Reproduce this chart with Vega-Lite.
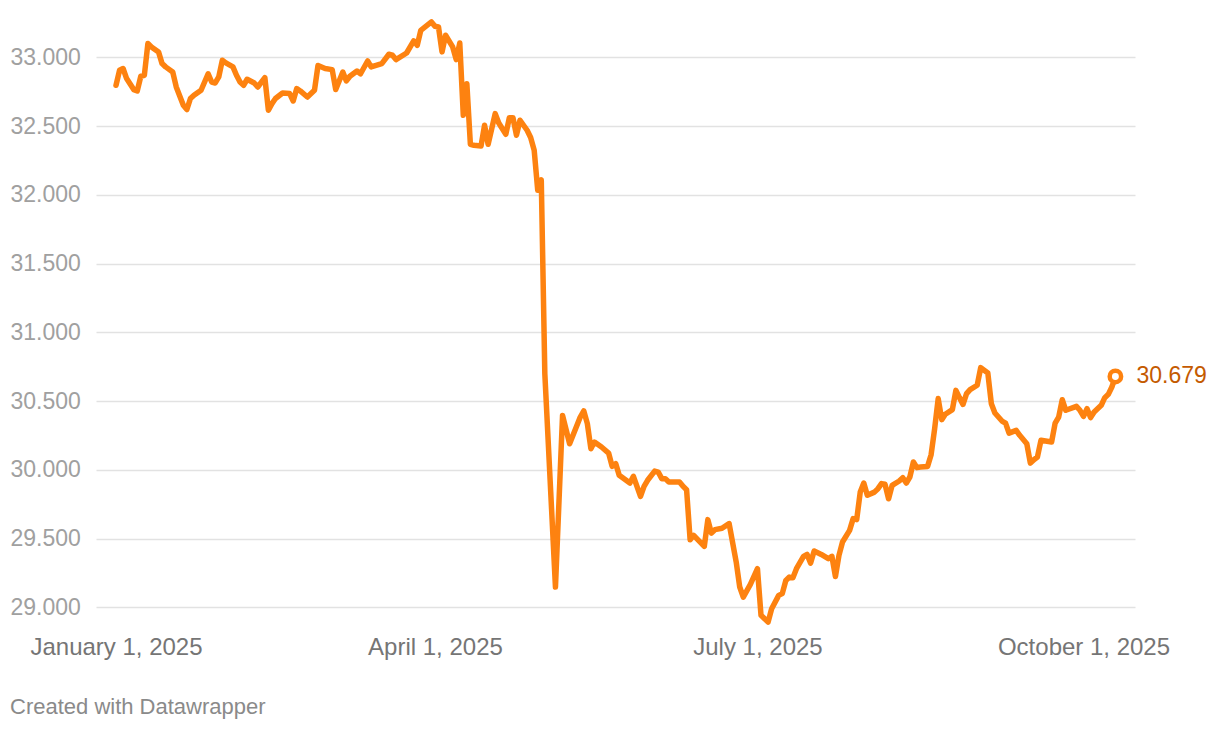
{
  "$schema": "https://vega.github.io/schema/vega-lite/v6.json",
  "width": 1039,
  "height": 612,
  "autosize": {"type": "none"},
  "padding": {"left": 96, "top": 16, "right": 85, "bottom": 102},
  "background": "#ffffff",
  "config": {
    "view": {"stroke": null},
    "font": "Liberation Sans"
  },
  "title": {
    "text": "Created with Datawrapper",
    "orient": "bottom",
    "anchor": "start",
    "frame": "group",
    "dx": -86,
    "offset": 38,
    "fontSize": 22,
    "fontWeight": "normal",
    "color": "#8a8a8a",
    "font": "Liberation Sans"
  },
  "datasets": {
    "rate": [
      {"date": "2025-01-01", "value": 32.796},
      {"date": "2025-01-02", "value": 32.905},
      {"date": "2025-01-03", "value": 32.918},
      {"date": "2025-01-04", "value": 32.845},
      {"date": "2025-01-06", "value": 32.765},
      {"date": "2025-01-07", "value": 32.755},
      {"date": "2025-01-08", "value": 32.862},
      {"date": "2025-01-09", "value": 32.869},
      {"date": "2025-01-10", "value": 33.100},
      {"date": "2025-01-11", "value": 33.075},
      {"date": "2025-01-13", "value": 33.039},
      {"date": "2025-01-14", "value": 32.954},
      {"date": "2025-01-15", "value": 32.930},
      {"date": "2025-01-17", "value": 32.893},
      {"date": "2025-01-18", "value": 32.784},
      {"date": "2025-01-20", "value": 32.651},
      {"date": "2025-01-21", "value": 32.620},
      {"date": "2025-01-22", "value": 32.700},
      {"date": "2025-01-23", "value": 32.724},
      {"date": "2025-01-25", "value": 32.760},
      {"date": "2025-01-26", "value": 32.820},
      {"date": "2025-01-27", "value": 32.880},
      {"date": "2025-01-28", "value": 32.820},
      {"date": "2025-01-29", "value": 32.813},
      {"date": "2025-01-30", "value": 32.857},
      {"date": "2025-01-31", "value": 32.978},
      {"date": "2025-02-01", "value": 32.959},
      {"date": "2025-02-03", "value": 32.930},
      {"date": "2025-02-04", "value": 32.869},
      {"date": "2025-02-05", "value": 32.820},
      {"date": "2025-02-06", "value": 32.796},
      {"date": "2025-02-07", "value": 32.840},
      {"date": "2025-02-09", "value": 32.813},
      {"date": "2025-02-10", "value": 32.784},
      {"date": "2025-02-12", "value": 32.852},
      {"date": "2025-02-13", "value": 32.615},
      {"date": "2025-02-14", "value": 32.663},
      {"date": "2025-02-15", "value": 32.700},
      {"date": "2025-02-17", "value": 32.740},
      {"date": "2025-02-19", "value": 32.736},
      {"date": "2025-02-20", "value": 32.682},
      {"date": "2025-02-21", "value": 32.772},
      {"date": "2025-02-22", "value": 32.755},
      {"date": "2025-02-24", "value": 32.711},
      {"date": "2025-02-26", "value": 32.760},
      {"date": "2025-02-27", "value": 32.940},
      {"date": "2025-03-01", "value": 32.918},
      {"date": "2025-03-03", "value": 32.910},
      {"date": "2025-03-04", "value": 32.765},
      {"date": "2025-03-06", "value": 32.893},
      {"date": "2025-03-07", "value": 32.828},
      {"date": "2025-03-08", "value": 32.862},
      {"date": "2025-03-10", "value": 32.900},
      {"date": "2025-03-11", "value": 32.880},
      {"date": "2025-03-13", "value": 32.973},
      {"date": "2025-03-14", "value": 32.930},
      {"date": "2025-03-17", "value": 32.954},
      {"date": "2025-03-19", "value": 33.022},
      {"date": "2025-03-20", "value": 33.015},
      {"date": "2025-03-21", "value": 32.983},
      {"date": "2025-03-24", "value": 33.031},
      {"date": "2025-03-26", "value": 33.119},
      {"date": "2025-03-27", "value": 33.087},
      {"date": "2025-03-28", "value": 33.196},
      {"date": "2025-03-31", "value": 33.257},
      {"date": "2025-04-01", "value": 33.225},
      {"date": "2025-04-02", "value": 33.220},
      {"date": "2025-04-03", "value": 33.039},
      {"date": "2025-04-04", "value": 33.160},
      {"date": "2025-04-06", "value": 33.075},
      {"date": "2025-04-07", "value": 32.983},
      {"date": "2025-04-08", "value": 33.104},
      {"date": "2025-04-09", "value": 32.578},
      {"date": "2025-04-10", "value": 32.808},
      {"date": "2025-04-11", "value": 32.367},
      {"date": "2025-04-12", "value": 32.360},
      {"date": "2025-04-14", "value": 32.355},
      {"date": "2025-04-15", "value": 32.505},
      {"date": "2025-04-16", "value": 32.367},
      {"date": "2025-04-18", "value": 32.590},
      {"date": "2025-04-19", "value": 32.522},
      {"date": "2025-04-21", "value": 32.440},
      {"date": "2025-04-22", "value": 32.561},
      {"date": "2025-04-23", "value": 32.561},
      {"date": "2025-04-24", "value": 32.433},
      {"date": "2025-04-25", "value": 32.542},
      {"date": "2025-04-27", "value": 32.469},
      {"date": "2025-04-28", "value": 32.416},
      {"date": "2025-04-29", "value": 32.324},
      {"date": "2025-04-30", "value": 32.033},
      {"date": "2025-05-01", "value": 32.108},
      {"date": "2025-05-02", "value": 30.700},
      {"date": "2025-05-05", "value": 29.148},
      {"date": "2025-05-07", "value": 30.396},
      {"date": "2025-05-09", "value": 30.190},
      {"date": "2025-05-12", "value": 30.384},
      {"date": "2025-05-13", "value": 30.428},
      {"date": "2025-05-14", "value": 30.336},
      {"date": "2025-05-15", "value": 30.154},
      {"date": "2025-05-16", "value": 30.202},
      {"date": "2025-05-18", "value": 30.166},
      {"date": "2025-05-20", "value": 30.122},
      {"date": "2025-05-21", "value": 30.025},
      {"date": "2025-05-22", "value": 30.045},
      {"date": "2025-05-23", "value": 29.960},
      {"date": "2025-05-26", "value": 29.904},
      {"date": "2025-05-27", "value": 29.953},
      {"date": "2025-05-29", "value": 29.807},
      {"date": "2025-05-30", "value": 29.880},
      {"date": "2025-05-31", "value": 29.924},
      {"date": "2025-06-02", "value": 29.991},
      {"date": "2025-06-03", "value": 29.984},
      {"date": "2025-06-04", "value": 29.936},
      {"date": "2025-06-05", "value": 29.936},
      {"date": "2025-06-06", "value": 29.911},
      {"date": "2025-06-09", "value": 29.911},
      {"date": "2025-06-10", "value": 29.880},
      {"date": "2025-06-11", "value": 29.856},
      {"date": "2025-06-12", "value": 29.492},
      {"date": "2025-06-13", "value": 29.524},
      {"date": "2025-06-16", "value": 29.444},
      {"date": "2025-06-17", "value": 29.638},
      {"date": "2025-06-18", "value": 29.540},
      {"date": "2025-06-19", "value": 29.565},
      {"date": "2025-06-21", "value": 29.575},
      {"date": "2025-06-23", "value": 29.609},
      {"date": "2025-06-25", "value": 29.330},
      {"date": "2025-06-26", "value": 29.148},
      {"date": "2025-06-27", "value": 29.075},
      {"date": "2025-06-29", "value": 29.167},
      {"date": "2025-07-01", "value": 29.281},
      {"date": "2025-07-02", "value": 28.942},
      {"date": "2025-07-04", "value": 28.893},
      {"date": "2025-07-05", "value": 28.990},
      {"date": "2025-07-07", "value": 29.087},
      {"date": "2025-07-08", "value": 29.100},
      {"date": "2025-07-09", "value": 29.196},
      {"date": "2025-07-10", "value": 29.220},
      {"date": "2025-07-11", "value": 29.216},
      {"date": "2025-07-12", "value": 29.281},
      {"date": "2025-07-14", "value": 29.371},
      {"date": "2025-07-15", "value": 29.385},
      {"date": "2025-07-16", "value": 29.322},
      {"date": "2025-07-17", "value": 29.410},
      {"date": "2025-07-19", "value": 29.385},
      {"date": "2025-07-21", "value": 29.354},
      {"date": "2025-07-22", "value": 29.371},
      {"date": "2025-07-23", "value": 29.225},
      {"date": "2025-07-24", "value": 29.378},
      {"date": "2025-07-25", "value": 29.475},
      {"date": "2025-07-27", "value": 29.560},
      {"date": "2025-07-28", "value": 29.645},
      {"date": "2025-07-29", "value": 29.638},
      {"date": "2025-07-30", "value": 29.838},
      {"date": "2025-07-31", "value": 29.904},
      {"date": "2025-08-01", "value": 29.815},
      {"date": "2025-08-03", "value": 29.838},
      {"date": "2025-08-04", "value": 29.863},
      {"date": "2025-08-05", "value": 29.900},
      {"date": "2025-08-06", "value": 29.895},
      {"date": "2025-08-07", "value": 29.790},
      {"date": "2025-08-08", "value": 29.887},
      {"date": "2025-08-10", "value": 29.919},
      {"date": "2025-08-11", "value": 29.943},
      {"date": "2025-08-12", "value": 29.904},
      {"date": "2025-08-13", "value": 29.948},
      {"date": "2025-08-14", "value": 30.057},
      {"date": "2025-08-15", "value": 30.016},
      {"date": "2025-08-16", "value": 30.020},
      {"date": "2025-08-18", "value": 30.025},
      {"date": "2025-08-19", "value": 30.110},
      {"date": "2025-08-20", "value": 30.300},
      {"date": "2025-08-21", "value": 30.518},
      {"date": "2025-08-22", "value": 30.365},
      {"date": "2025-08-23", "value": 30.404},
      {"date": "2025-08-25", "value": 30.438},
      {"date": "2025-08-26", "value": 30.578},
      {"date": "2025-08-27", "value": 30.525},
      {"date": "2025-08-28", "value": 30.476},
      {"date": "2025-08-29", "value": 30.554},
      {"date": "2025-08-30", "value": 30.583},
      {"date": "2025-09-01", "value": 30.615},
      {"date": "2025-09-02", "value": 30.743},
      {"date": "2025-09-04", "value": 30.704},
      {"date": "2025-09-05", "value": 30.481},
      {"date": "2025-09-06", "value": 30.413},
      {"date": "2025-09-08", "value": 30.355},
      {"date": "2025-09-09", "value": 30.340},
      {"date": "2025-09-10", "value": 30.267},
      {"date": "2025-09-12", "value": 30.287},
      {"date": "2025-09-13", "value": 30.251},
      {"date": "2025-09-15", "value": 30.190},
      {"date": "2025-09-16", "value": 30.049},
      {"date": "2025-09-17", "value": 30.074},
      {"date": "2025-09-18", "value": 30.093},
      {"date": "2025-09-19", "value": 30.215},
      {"date": "2025-09-22", "value": 30.202},
      {"date": "2025-09-23", "value": 30.340},
      {"date": "2025-09-24", "value": 30.384},
      {"date": "2025-09-25", "value": 30.510},
      {"date": "2025-09-26", "value": 30.433},
      {"date": "2025-09-29", "value": 30.462},
      {"date": "2025-09-30", "value": 30.433},
      {"date": "2025-10-01", "value": 30.389},
      {"date": "2025-10-02", "value": 30.445},
      {"date": "2025-10-03", "value": 30.380},
      {"date": "2025-10-04", "value": 30.420},
      {"date": "2025-10-06", "value": 30.469},
      {"date": "2025-10-07", "value": 30.525},
      {"date": "2025-10-08", "value": 30.549},
      {"date": "2025-10-09", "value": 30.602},
      {"date": "2025-10-10", "value": 30.679}
    ],
    "last": [
      {"date": "2025-10-10", "value": 30.679}
    ]
  },
  "encoding": {
    "x": {
      "field": "date",
      "type": "temporal",
      "title": null,
      "scale": {
        "type": "utc",
        "domain": [
          {"year": 2024, "month": 12, "date": 26, "hours": 8, "minutes": 34, "utc": true},
          {"year": 2025, "month": 10, "date": 15, "hours": 12, "minutes": 43, "utc": true}
        ]
      },
      "axis": {
        "values": [
          {"year": 2025, "month": 1, "date": 1, "utc": true},
          {"year": 2025, "month": 4, "date": 1, "utc": true},
          {"year": 2025, "month": 7, "date": 1, "utc": true},
          {"year": 2025, "month": 10, "date": 1, "utc": true}
        ],
        "format": "%B %-d, %Y",
        "grid": false,
        "domain": false,
        "ticks": false,
        "labelPadding": 7,
        "labelFontSize": 24,
        "labelColor": "#757575",
        "labelFont": "Liberation Sans",
        "labelOverlap": false,
        "labelFlush": false
      }
    },
    "y": {
      "field": "value",
      "type": "quantitative",
      "title": null,
      "scale": {"domain": [28.85, 33.3], "nice": false, "zero": false},
      "axis": {
        "values": [29, 29.5, 30, 30.5, 31, 31.5, 32, 32.5, 33],
        "format": ".3f",
        "grid": true,
        "gridColor": "#e2e2e2",
        "gridWidth": 1.5,
        "domain": false,
        "ticks": false,
        "labelAlign": "left",
        "labelBaseline": "middle",
        "labelPadding": 86,
        "labelFontSize": 23,
        "labelColor": "#a0a0a0",
        "labelFont": "Liberation Sans"
      }
    }
  },
  "layer": [
    {
      "data": {"name": "rate"},
      "mark": {
        "type": "line",
        "color": "#fd8210",
        "strokeWidth": 5.5,
        "strokeJoin": "round",
        "strokeCap": "round",
        "interpolate": "linear"
      }
    },
    {
      "data": {"name": "last"},
      "mark": {
        "type": "point",
        "shape": "circle",
        "filled": true,
        "fill": "#ffffff",
        "stroke": "#fd8210",
        "strokeWidth": 4.5,
        "size": 130,
        "opacity": 1
      }
    },
    {
      "data": {"name": "last"},
      "mark": {
        "type": "text",
        "align": "left",
        "baseline": "middle",
        "dx": 21,
        "fontSize": 23,
        "font": "Liberation Sans",
        "color": "#c45a00"
      },
      "encoding": {
        "text": {"field": "value", "type": "quantitative", "format": ".3f"}
      }
    }
  ]
}
